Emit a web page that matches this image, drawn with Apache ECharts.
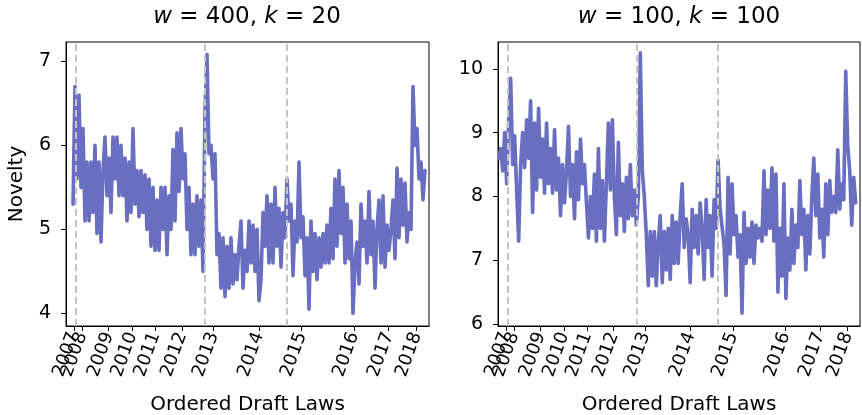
<!DOCTYPE html>
<html>
<head>
<meta charset="utf-8">
<style>
  html, body { margin: 0; padding: 0; background: #fff; }
  #chart { width: 862px; height: 415px; }
</style>
</head>
<body>
<div id="chart"></div>
<script src="https://cdn.jsdelivr.net/npm/echarts@6/dist/echarts.min.js"></script>
<script>
// year tick positions on the draft-law index axis
var yearTicks = [80, 163, 427, 663, 893, 1160, 1477, 1930, 2357, 2880, 3227, 3507];
var yearLabels = ['2007', '2008', '2009', '2010', '2011', '2012', '2013', '2014', '2015', '2016', '2017', '2018'];
// dashed separators
var breaks = [97, 1390, 2207];

var leftTicks = [4, 5, 6, 7];
var rightTicks = [6, 7, 8, 9, 10];

// w = 400, k = 20  (first law index 70, one value every 20 laws)
var leftStart = 70;
var leftValues = [
  5.3, 6.7, 5.6, 6.6, 5.5, 6.2, 5.1, 5.8, 5.1, 5.8, 5.2, 6.0, 4.95, 5.8, 4.85, 5.7, 6.1, 5.4, 5.85, 5.2,
  6.1, 5.6, 6.1, 5.4, 6.0, 5.4, 5.85, 5.1, 5.8, 5.2, 6.2, 5.3, 5.7, 5.15, 5.7, 5.2, 5.65, 5.0, 5.6, 4.8,
  5.5, 4.75, 5.35, 4.75, 5.5, 5.0, 5.5, 4.7, 5.4, 5.0, 5.95, 5.1, 6.15, 5.45, 6.2, 5.6, 5.9, 5.0, 5.5, 4.7,
  5.3, 4.7, 5.4, 4.8, 5.35, 4.5, 6.4, 7.08, 5.9, 6.0, 5.6, 5.9, 4.7, 4.95, 4.3, 4.9, 4.2, 4.8, 4.3, 4.9,
  4.35, 4.7, 4.4, 4.8, 5.1, 4.3, 4.75, 4.5, 5.1, 4.6, 5.05, 4.5, 5.0, 4.15, 4.4, 5.2, 4.8, 5.4, 4.6, 5.3,
  4.6, 5.5, 4.8, 5.25, 4.55, 5.2, 4.9, 5.6, 5.1, 5.3, 4.45, 5.1, 4.85, 5.8, 4.9, 5.15, 4.45, 4.9, 4.05, 5.1,
  4.5, 4.95, 4.4, 4.9, 4.55, 4.95, 4.6, 5.05, 4.6, 5.25, 4.65, 5.6, 4.8, 5.7, 4.95, 5.5, 4.6, 5.3, 4.65, 5.1,
  4.0, 4.6, 4.85, 4.35, 5.3, 4.8, 5.1, 4.6, 5.45, 4.7, 5.1, 4.3, 5.0, 5.35, 4.6, 5.4, 4.55, 5.05, 4.75, 5.0,
  5.35, 4.65, 5.73, 4.9, 5.6, 5.05, 5.55, 4.85, 5.2, 5.0, 6.7, 6.0, 6.2, 5.6, 5.8, 5.35, 5.7
];

// w = 100, k = 100  (first law index 7, one value every 20 laws)
var rightStart = 7;
var rightValues = [
  8.6, 8.75, 8.4, 9.0, 8.2, 9.2, 9.85, 8.5, 8.95, 8.1, 7.3, 8.5, 9.0, 8.45, 9.2, 8.6, 9.5, 7.75, 9.15, 8.1,
  9.38, 8.3, 8.9, 8.05, 9.15, 8.2, 8.75, 8.05, 9.05, 8.1, 8.6, 7.7, 8.5, 7.9, 8.4, 9.1, 8.0, 8.5, 7.65, 8.7,
  7.95, 8.9, 8.2, 8.5, 7.9, 7.35, 8.0, 7.5, 8.35, 7.3, 8.75, 7.5, 8.25, 7.3, 8.2, 9.15, 8.1, 9.2, 8.0, 7.4,
  8.85, 7.7, 8.2, 7.45, 8.3, 7.65, 8.5, 7.7, 8.1, 7.55, 8.0, 10.25, 8.4, 8.0, 7.4, 6.6, 7.45, 6.75, 7.45, 6.6,
  7.3, 7.7, 6.65, 7.45, 6.85, 7.5, 6.7, 7.7, 6.95, 7.6, 6.95, 7.7, 8.2, 7.2, 7.65, 7.4, 6.65, 7.8, 7.2, 7.7,
  7.1, 7.9, 7.5, 6.7, 7.95, 7.2, 7.7, 6.75, 7.95, 7.5, 8.57, 7.8, 7.8, 7.25, 6.45, 8.3, 7.1, 8.2, 7.4, 7.7,
  7.05, 7.4, 6.17, 7.75, 6.95, 7.5, 7.05, 7.6, 6.95, 7.55, 7.35, 7.5, 7.3, 8.4, 7.4, 8.1, 7.5, 8.45, 7.3, 8.35,
  6.5, 7.5, 6.75, 8.2, 6.4, 7.35, 6.85, 7.8, 6.95, 7.55, 7.2, 8.25, 7.4, 7.8, 6.85, 7.7, 7.1, 8.0, 8.6, 7.7,
  8.35, 7.35, 7.8, 7.05, 8.2, 7.4, 8.25, 7.75, 8.0, 7.75, 8.73, 7.8, 8.2, 7.95, 9.96, 8.8, 8.4, 7.55, 8.3, 7.9
];
var step = 20;

function toPairs(start, vals) {
  var out = [];
  for (var i = 0; i < vals.length; i++) out.push([start + i * step, vals[i]]);
  return out;
}

var font = 'DejaVu Sans';
var lineColor = '#696ec0';

function xAxisFor(idx) {
  return {
    type: 'value', gridIndex: idx, min: 0, max: 3630,
    name: 'Ordered Draft Laws',
    nameLocation: 'middle', nameGap: 69,
    nameTextStyle: { fontFamily: font, fontSize: 20, color: '#000' },
    axisLine: { show: true, lineStyle: { color: '#000', width: 1 } },
    axisTick: { show: true, length: 5, lineStyle: { color: '#000' }, customValues: yearTicks },
    axisLabel: {
      show: true, rotate: 70, margin: 7, fontFamily: font, fontSize: 18, color: '#000',
      hideOverlap: false, showMinLabel: false, showMaxLabel: true,
      // leading 0 is an empty placeholder so the 2007/2008 pair is not thinned out
      customValues: [0].concat(yearTicks),
      formatter: function (v) {
        var i = yearTicks.indexOf(v);
        return i >= 0 ? yearLabels[i] : '';
      }
    },
    splitLine: { show: false }
  };
}

function yAxisFor(idx, lo, hi, ticks, name) {
  return {
    type: 'value', gridIndex: idx, min: lo, max: hi,
    name: name, nameLocation: 'middle', nameGap: 39,
    nameTextStyle: { fontFamily: font, fontSize: 20, color: '#000' },
    axisLine: { show: true, lineStyle: { color: '#000', width: 1 } },
    axisTick: { show: true, length: 5, lineStyle: { color: '#000' }, customValues: ticks },
    axisLabel: { show: true, margin: 15, fontFamily: font, fontSize: 19, color: '#000', customValues: ticks },
    splitLine: { show: false }
  };
}

function dashLines() {
  return {
    silent: true, symbol: 'none', label: { show: false },
    lineStyle: { color: '#c4c4c4', width: 2, type: [7, 4] },
    data: breaks.map(function (b) { return { xAxis: b }; })
  };
}

function titleFor(text, cx) {
  return {
    text: text, left: cx, top: 6, textAlign: 'center', padding: 0,
    textStyle: { fontFamily: font, fontSize: 23, fontWeight: 'normal', color: '#000',
      rich: { i: { fontFamily: font, fontSize: 23, fontStyle: 'italic', color: '#000' } } }
  };
}

var chart = echarts.init(document.getElementById('chart'), null, { renderer: 'canvas' });
chart.setOption({
  animation: false,
  backgroundColor: '#fff',
  title: [
    titleFor('{i|w} = 400, {i|k} = 20', 247),
    titleFor('{i|w} = 100, {i|k} = 100', 679)
  ],
  grid: [
    { left: 66, top: 42, width: 363, height: 284, outerBoundsMode: 'none', containLabel: false,
      show: true, borderColor: '#000', borderWidth: 1, backgroundColor: 'transparent' },
    { left: 498, top: 42, width: 362, height: 284, outerBoundsMode: 'none', containLabel: false,
      show: true, borderColor: '#000', borderWidth: 1, backgroundColor: 'transparent' }
  ],
  xAxis: [xAxisFor(0), xAxisFor(1)],
  yAxis: [
    yAxisFor(0, 3.85, 7.23, leftTicks, 'Novelty'),
    yAxisFor(1, 5.97, 10.42, rightTicks, '')
  ],
  series: [
    {
      type: 'line', xAxisIndex: 0, yAxisIndex: 0, data: toPairs(leftStart, leftValues),
      showSymbol: false, lineStyle: { color: lineColor, width: 3.6, join: 'round', cap: 'round' },
      markLine: dashLines(), z: 3
    },
    {
      type: 'line', xAxisIndex: 1, yAxisIndex: 1, data: toPairs(rightStart, rightValues),
      showSymbol: false, lineStyle: { color: lineColor, width: 3.6, join: 'round', cap: 'round' },
      markLine: dashLines(), z: 3
    }
  ]
});
</script>
</body>
</html>
